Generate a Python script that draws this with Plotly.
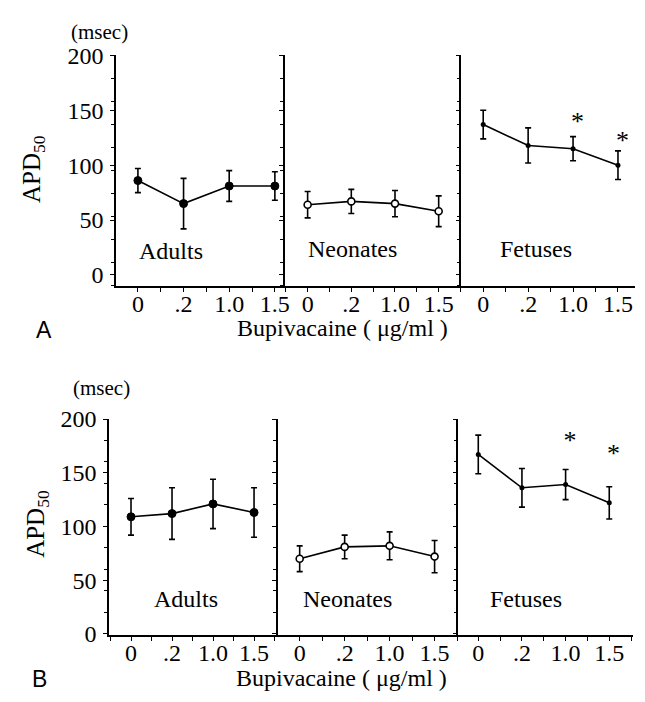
import plotly.graph_objects as go

# ---- data ----
doses = ["0", ".2", "1.0", "1.5"]
groups = ["Adults", "Neonates", "Fetuses"]

# Panel A (APD50, msec)
A_adults = [86, 65, 81, 81]
A_adults_err = [11, 23, 14, 13]
A_neonates = [64, 67, 65, 58]
A_neonates_err = [12, 11, 12, 14]
A_fetuses = [137, 118, 115, 100]
A_fetuses_err = [13, 16, 11, 13]
A_sig_idx = [2, 3]
A_sig_y = [138, 121]

# Panel B
B_adults = [109, 112, 121, 113]
B_adults_err = [17, 24, 23, 23]
B_neonates = [70, 81, 82, 72]
B_neonates_err = [12, 11, 13, 15]
B_fetuses = [167, 136, 139, 122]
B_fetuses_err = [18, 18, 14, 15]
B_sig_idx = [2, 3]
B_sig_y = [178, 166]

y_ticks = [0, 50, 100, 150, 200]

W, H = 645, 702
SERIF = "Liberation Serif, Times New Roman, serif"
SANS = "Liberation Sans, Arial, sans-serif"


def px(x):
    return x / W


def py(y):
    return 1 - y / H


fig = go.Figure()

xi = list(range(len(doses)))

# subplot geometry (pixels)
A_x = [(117, 287, -0.478, 3.217), (287, 465, -0.523, 3.52), (465, 640, -0.486, 3.38)]
B_x = [(110, 280, -0.533, 3.58), (280, 462, -0.486, 3.53), (462, 638, -0.455, 3.545)]
A_y = (44, 283, [-10, 200], -10, 21)
B_y = (421, 645, [-1, 200], 0, 20)

panels = [
    (A_x, A_y, [(A_adults, A_adults_err), (A_neonates, A_neonates_err), (A_fetuses, A_fetuses_err)], A_sig_idx, A_sig_y),
    (B_x, B_y, [(B_adults, B_adults_err), (B_neonates, B_neonates_err), (B_fetuses, B_fetuses_err)], B_sig_idx, B_sig_y),
]

marker_styles = [
    dict(symbol="circle", size=8, color="black", line=dict(color="black", width=1)),
    dict(symbol="circle", size=7, color="white", line=dict(color="black", width=1.6)),
    dict(symbol="circle", size=5, color="black", line=dict(color="black", width=0)),
]

TICKFONT = dict(family=SERIF, size=24, color="black")

ax_n = 0
layout_axes = {}
for pi, (xgeo, ygeo, series, sig_idx, sig_y) in enumerate(panels):
    ytop, ybot, yrange, mtick0, mdtick = ygeo
    for gi in range(3):
        ax_n += 1
        xname = "x" if ax_n == 1 else f"x{ax_n}"
        yname = "y" if ax_n == 1 else f"y{ax_n}"
        vals, err = series[gi]
        fig.add_trace(go.Scatter(
            x=xi, y=vals, mode="lines+markers",
            line=dict(color="black", width=1.6),
            marker=marker_styles[gi],
            error_y=dict(type="data", array=err, visible=True, color="black", thickness=1.6, width=3),
            xaxis=xname, yaxis=yname, showlegend=False, cliponaxis=False,
        ))
        if gi == 2:
            fig.add_trace(go.Scatter(
                x=[xi[i] + 0.1 for i in sig_idx], y=sig_y, mode="text", text=["*"] * len(sig_idx),
                textfont=dict(family=SERIF, size=26, color="black"), textposition="middle center",
                xaxis=xname, yaxis=yname, showlegend=False, cliponaxis=False,
            ))
        x0, x1, r0, r1 = xgeo[gi]
        xa = dict(
            domain=[px(x0), px(x1)], range=[r0, r1], anchor=yname,
            showline=True, linecolor="black", linewidth=1.6, mirror=False,
            showgrid=False, zeroline=False,
            tickmode="array", tickvals=xi, ticktext=doses,
            ticks="outside", ticklen=4, tickwidth=1.4, tickcolor="black",
            minor=dict(tickmode="linear", tick0=0, dtick=0.5, ticks="outside", ticklen=4, tickwidth=1.2, tickcolor="black"),
            tickfont=TICKFONT, ticklabelstandoff=-9,
            fixedrange=True,
        )
        ya = dict(
            domain=[py(ybot), py(ytop)], range=yrange, anchor=xname,
            showline=True, linecolor="black", linewidth=1.6,
            showgrid=False, zeroline=False,
            tickmode="array", tickvals=y_ticks, ticktext=[str(v) for v in y_ticks],
            ticks="outside", ticklen=4, tickwidth=1.4, tickcolor="black",
            minor=dict(tickmode="linear", tick0=mtick0, dtick=mdtick, ticks="outside", ticklen=3, tickwidth=1.2, tickcolor="black"),
            tickfont=TICKFONT,
            showticklabels=(gi == 0), ticklabelstandoff=2,
            fixedrange=True,
        )
        layout_axes["xaxis" if ax_n == 1 else f"xaxis{ax_n}"] = xa
        layout_axes["yaxis" if ax_n == 1 else f"yaxis{ax_n}"] = ya

fig.update_layout(**layout_axes)

annotations = []


def ann(text, x, y, size=24, family=SERIF, angle=0):
    annotations.append(dict(
        text=text, x=px(x), y=py(y), xref="paper", yref="paper",
        showarrow=False, xanchor="center", yanchor="middle",
        font=dict(family=family, size=size, color="black"), textangle=angle,
    ))


# panel A texts
ann("(msec)", 100, 20, size=21)
ann("APD<sub>50</sub>", 33, 162, size=25, angle=-90)
ann(groups[0], 172, 247)
ann(groups[1], 355, 245)
ann(groups[2], 540, 245)
ann("Bupivacaine ( μg/ml )", 345, 327, size=24)
ann("A", 44, 329, size=23, family=SANS)

# panel B texts
ann("(msec)", 102, 389, size=21)
ann("APD<sub>50</sub>", 37, 530, size=25, angle=-90)
ann(groups[0], 187, 608)
ann(groups[1], 350, 608)
ann(groups[2], 530, 608)
ann("Bupivacaine ( μg/ml )", 344, 690, size=24)
ann("B", 40, 691, size=23, family=SANS)

fig.update_layout(
    width=W, height=H,
    margin=dict(l=0, r=0, t=0, b=0),
    paper_bgcolor="white", plot_bgcolor="white",
    annotations=annotations,
    showlegend=False,
)

fig.write_html("out.html", config={"displayModeBar": False},
               post_script="document.body.style.margin='0px';")
